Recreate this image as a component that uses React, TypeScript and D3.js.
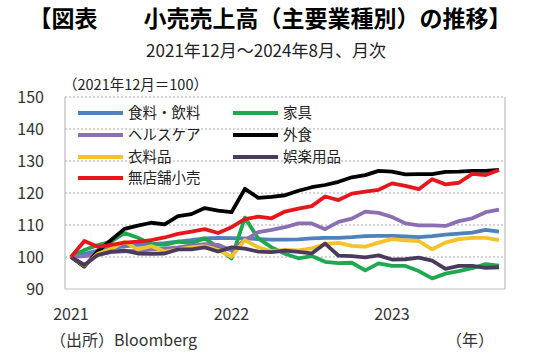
import React from "react";
import * as d3 from "d3";

const months = d3.range(33); // Dec 2021 .. Aug 2024 (index)
const tickIdx = [0, 12, 24];
const tickLabels = ["2021", "2022", "2023"];
const yTicks = [90, 100, 110, 120, 130, 140, 150];

const seriesNames = ["食料・飲料", "家具", "ヘルスケア", "外食", "衣料品", "娯楽用品", "無店舗小売"];
const seriesColors = ["#4f81bd", "#1ea84f", "#8a6fb4", "#000000", "#f5c229", "#4a3b5e", "#e8161c"];

const food = [100, 101, 102, 102.8, 103.3, 103.8, 104, 104.3, 104.8, 105.3, 105.8, 106, 105.9, 105.8, 105.6, 105.4, 105.4, 105.5, 105.8, 106, 106, 106.2, 106.5, 106.6, 106.6, 106.4, 106.2, 106.5, 107, 107.3, 107.6, 108.5, 107.9];
const furniture = [100, 102.2, 103.7, 104.8, 107.5, 106, 104, 103.8, 104.8, 104.3, 105.8, 103, 99.5, 112.3, 105.8, 103, 101, 99.6, 100.3, 98.5, 98.1, 98.2, 95.8, 98, 97.2, 97.2, 95.6, 93.3, 94.8, 95.6, 96.5, 97.8, 97.3];
const health = [100, 100.3, 100.8, 101.5, 101.8, 102, 102.3, 102.6, 103, 103.5, 104, 103.8, 102, 105.3, 107.8, 108.5, 109.3, 110.5, 110.5, 108.7, 111, 112, 114.2, 113.8, 112.5, 110.5, 109.9, 109.9, 109.7, 111.2, 112.1, 114, 114.8];
const dining = [100, 97, 101.8, 105.3, 108.8, 109.8, 110.7, 110.2, 112.8, 113.4, 115.3, 114.5, 114, 121.3, 118.5, 118.8, 119.3, 120.7, 121.8, 122.5, 123.5, 124.9, 125.6, 126.9, 126.7, 125.8, 125.9, 125.9, 126.6, 126.7, 126.9, 126.9, 127.2];
const clothing = [100, 97.3, 101, 102.5, 104.8, 102.4, 103.4, 101.7, 102.4, 103, 103.4, 102.2, 100.1, 105.3, 103, 101.8, 102.2, 102.1, 102.7, 104, 104.4, 103.5, 103.2, 104.5, 105.6, 105.2, 105, 102.4, 104.5, 105.6, 106, 106, 105.3];
const leisure = [100, 97.5, 100.6, 101.7, 102, 101.1, 101, 101.1, 102.4, 102.4, 103, 101.7, 103, 102.6, 101.7, 101.5, 102, 101.6, 101.1, 104.2, 100.4, 100.3, 99.9, 100.5, 99.2, 99.3, 99.8, 98.9, 96.3, 97.2, 97.2, 96.6, 96.8];
const nonstore = [100, 105, 103.2, 103.8, 104.5, 104.8, 105.3, 106.1, 107.2, 107.9, 108.7, 107.5, 109.3, 111.8, 112.6, 112.1, 114.2, 115.1, 115.9, 118.9, 117.8, 119.8, 120.4, 121, 123, 122.2, 121.2, 124.3, 122.7, 123.2, 126, 125.6, 127.2];

const allSeries = [food, furniture, health, dining, clothing, leisure, nonstore];

const W = 540, H = 355;
const L = 65, R = 505, T = 97, B = 289;
const FONT = "'Noto Sans CJK JP', 'Noto Sans', sans-serif";

export default function App() {
  const x = d3.scaleLinear().domain([0, 32]).range([L + 6, R - 6]);
  const y = d3.scaleLinear().domain([90, 150]).range([B, T]);
  const line = d3.line<number>().x((_, i) => x(months[i])).y((d) => y(d));

  const legendCols = [78, 233];
  const legendRows = [113, 135, 157, 178];

  return (
    <svg width={W} height={H} style={{ position: "absolute", left: 0, top: 0, background: "#fff" }} fontFamily={FONT}>
      <rect x={0} y={0} width={W} height={H} fill="#fff" />
      <text x={W / 2} y={27} textAnchor="middle" fontSize={23} fontWeight="bold" fill="#000">【図表　　小売売上高（主要業種別）の推移】</text>
      <text x={266} y={57} textAnchor="middle" fontSize={17} fill="#222">2021年12月～2024年8月、月次</text>
      <text x={63} y={90} fontSize={14.5} fill="#222">（2021年12月＝100）</text>

      {yTicks.filter((v) => v > 90).map((v) => (
        <line key={v} x1={L} x2={R} y1={y(v)} y2={y(v)} stroke="#a9a9a9" strokeWidth={1} strokeDasharray="2,2" />
      ))}
      <line x1={L} x2={L} y1={T} y2={B} stroke="#bdbdbd" strokeWidth={1.2} />
      <line x1={R} x2={R} y1={T} y2={B} stroke="#bdbdbd" strokeWidth={1.2} />
      <line x1={L} x2={R} y1={B} y2={B} stroke="#bdbdbd" strokeWidth={1.2} />

      {yTicks.map((v) => (
        <text key={v} x={44} y={y(v) + 5.5} textAnchor="end" fontSize={16} fill="#333">{v}</text>
      ))}
      {tickIdx.map((t, i) => (
        <text key={t} x={x(t)} y={320} textAnchor="middle" fontSize={16} fill="#333">{tickLabels[i]}</text>
      ))}
      <text x={50} y={346} fontSize={16} fill="#333">（出所）Bloomberg</text>
      <text x={446} y={346} fontSize={16} fill="#333">（年）</text>

      {allSeries.map((s, i) => (
        <path key={i} d={line(s) || ""} fill="none" stroke={seriesColors[i]} strokeWidth={3.8} strokeLinejoin="round" />
      ))}

      {seriesNames.map((n, i) => {
        const col = i === 6 ? 0 : i % 2;
        const row = i === 6 ? 3 : Math.floor(i / 2);
        const lx = legendCols[col];
        const ly = legendRows[row];
        return (
          <g key={n}>
            <line x1={lx} x2={lx + 45} y1={ly} y2={ly} stroke={seriesColors[i]} strokeWidth={4} />
            <text x={lx + 50} y={ly + 5} fontSize={14.5} fill="#222">{n}</text>
          </g>
        );
      })}
    </svg>
  );
}
